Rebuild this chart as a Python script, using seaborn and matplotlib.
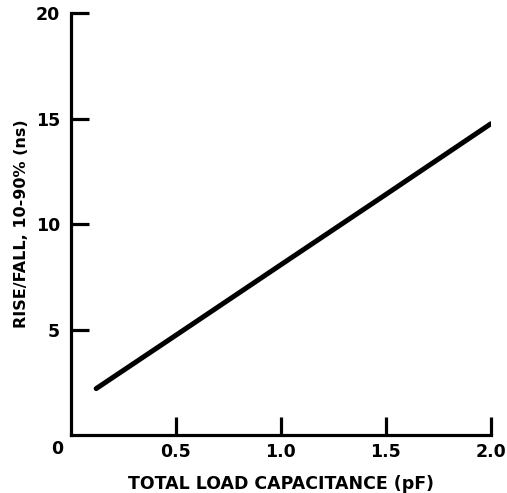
import matplotlib
matplotlib.use("Agg")
import matplotlib.pyplot as plt
import seaborn as sns
import pandas as pd

# Rise/fall time vs load capacitance
capacitance_pf = [0.12, 0.5, 1.0, 1.5, 2.0]
rise_fall_ns = [2.2, 4.73, 8.07, 11.4, 14.75]

x_ticks = [0.5, 1.0, 1.5, 2.0]
x_tick_labels = ["0.5", "1.0", "1.5", "2.0"]
y_ticks = [5, 10, 15, 20]
y_tick_labels = ["5", "10", "15", "20"]

sns.set_theme(style="ticks")
plt.rcParams["font.family"] = ["DejaVu Sans"]
plt.rcParams["font.weight"] = "bold"
plt.rcParams["text.color"] = "black"
plt.rcParams["axes.labelcolor"] = "black"
plt.rcParams["xtick.labelcolor"] = "black"
plt.rcParams["ytick.labelcolor"] = "black"

df = pd.DataFrame({"cap": capacitance_pf, "t": rise_fall_ns})

fig = plt.figure(figsize=(5.07, 4.93), dpi=100)
ax = fig.add_axes([0.140, 0.1176, 0.828, 0.856])

sns.lineplot(data=df, x="cap", y="t", ax=ax, color="black",
             linewidth=3.6, solid_capstyle="round")

ax.set_xlim(0, 2.0)
ax.set_ylim(0, 20)
sns.despine(ax=ax)
for side in ("left", "bottom"):
    ax.spines[side].set_linewidth(2.3)
    ax.spines[side].set_color("black")

ax.set_xticks(x_ticks)
ax.set_xticklabels(x_tick_labels, fontsize=12.5, fontweight="bold")
ax.set_yticks(y_ticks)
ax.set_yticklabels(y_tick_labels, fontsize=12.5, fontweight="bold")
ax.tick_params(direction="in", length=13, width=2.3, color="black", pad=6)
ax.tick_params(axis="y", pad=8)

# shared origin label
ax.annotate("0", xy=(0, 0), xytext=(-10, -10), textcoords="offset points",
            ha="center", va="center", fontsize=12.5, fontweight="bold")

ax.set_xlabel("TOTAL LOAD CAPACITANCE (pF)", fontsize=12.5, fontweight="bold",
              labelpad=10)
ax.set_ylabel("RISE/FALL, 10-90% (ns)", fontsize=11.5, fontweight="bold",
              labelpad=5)

fig.savefig("out.png", dpi=100, facecolor="white")
